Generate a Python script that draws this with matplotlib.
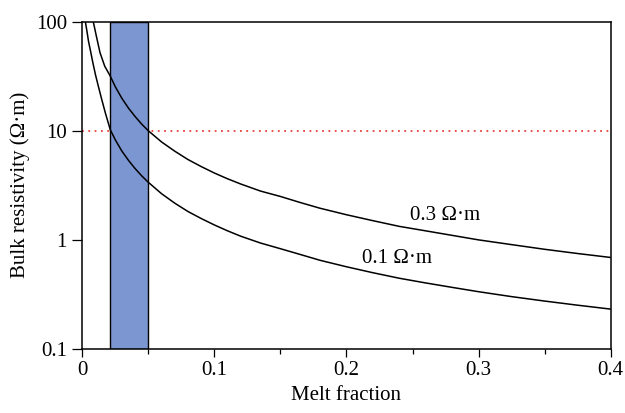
import matplotlib
matplotlib.use("Agg")
import matplotlib.pyplot as plt
from matplotlib.ticker import FixedLocator, NullLocator

# curves (melt fraction, bulk resistivity in ohm-m)
melt_03 = [0.0083, 0.0105, 0.0134, 0.017, 0.021, 0.025, 0.03, 0.035, 0.04, 0.045,
           0.05, 0.06, 0.07, 0.08, 0.09, 0.1, 0.11, 0.12, 0.135, 0.15, 0.165,
           0.18, 0.2, 0.22, 0.24, 0.26, 0.28, 0.3, 0.325, 0.35, 0.375, 0.4]
rho_03 = [100, 75, 52, 39, 32, 25.3, 19.8, 16.1, 13.5, 11.5,
          10, 7.9, 6.5, 5.45, 4.7, 4.1, 3.63, 3.25, 2.8, 2.5, 2.2,
          1.95, 1.70, 1.50, 1.33, 1.21, 1.10, 1.0, 0.905, 0.82, 0.75, 0.69]

melt_01 = [0.0023, 0.0035, 0.0047, 0.0062, 0.008, 0.01, 0.012, 0.0145, 0.0175, 0.0212,
           0.025, 0.03, 0.035, 0.04, 0.045, 0.05, 0.06, 0.07, 0.08, 0.09, 0.1,
           0.11, 0.12, 0.135, 0.15, 0.165, 0.18, 0.2, 0.22, 0.24, 0.26, 0.28,
           0.3, 0.325, 0.35, 0.375, 0.4]
rho_01 = [100, 82, 66, 54, 42, 32.5, 26, 19.8, 14.5, 10.2,
          8.25, 6.5, 5.35, 4.5, 3.86, 3.37, 2.65, 2.17, 1.82, 1.57, 1.37,
          1.21, 1.08, 0.935, 0.83, 0.735, 0.65, 0.567, 0.50, 0.445, 0.403, 0.367,
          0.335, 0.302, 0.275, 0.252, 0.232]

band = [0.021, 0.05]          # shaded melt fraction range
threshold = 10                # dotted line
labels = ["0.3 Ω·m", "0.1 Ω·m"]
label_pos = [(0.2746, 1.68), (0.2386, 0.67)]

ytick_vals = [0.1, 1, 10, 100]
ytick_text = ["0.1", "1", "10", "100"]
xtick_vals = [0, 0.1, 0.2, 0.3, 0.4]
xtick_text = ["0", "0.1", "0.2", "0.3", "0.4"]
xminor = [0.05, 0.15, 0.25, 0.35]

plt.rcParams['font.family'] = ['Liberation Serif', 'DejaVu Serif']
fs = 15

fig = plt.figure(figsize=(6.25, 4.13), dpi=100)
ax = fig.add_axes([0.1317, 0.155, 0.8453, 0.7925])

ax.axhline(threshold, color='#e8413c', linestyle=(0, (1, 2.5)), linewidth=1.3, zorder=1)
ax.axvspan(band[0], band[1], facecolor='#7b96d0', edgecolor='black', linewidth=1.0, zorder=2)
ax.plot(melt_03, rho_03, color='black', linewidth=1.1, zorder=3)
ax.plot(melt_01, rho_01, color='black', linewidth=1.1, zorder=3)

for txt, (lx, ly) in zip(labels, label_pos):
    ax.text(lx, ly, txt, ha='center', va='center', fontsize=fs)

ax.set_yscale('log')
ax.set_xlim(0, 0.4)
ax.set_ylim(0.1, 100)
ax.yaxis.set_major_locator(FixedLocator(ytick_vals))
ax.yaxis.set_minor_locator(NullLocator())
ax.set_yticklabels(ytick_text)
ax.set_xticks(xtick_vals)
ax.set_xticklabels(xtick_text)
ax.xaxis.set_minor_locator(FixedLocator(xminor))

ax.tick_params(axis='y', which='major', direction='out', length=7.5, width=0.9, labelsize=fs)
ax.tick_params(axis='x', which='major', direction='out', length=5.5, width=0.9, labelsize=fs)
ax.tick_params(axis='x', which='minor', direction='out', length=3.6, width=0.9)

for s in ax.spines.values():
    s.set_linewidth(1.1)

ax.set_xlabel('Melt fraction', fontsize=fs)
ax.set_ylabel('Bulk resistivity (Ω·m)', fontsize=fs)

fig.savefig('out.png', dpi=100)
